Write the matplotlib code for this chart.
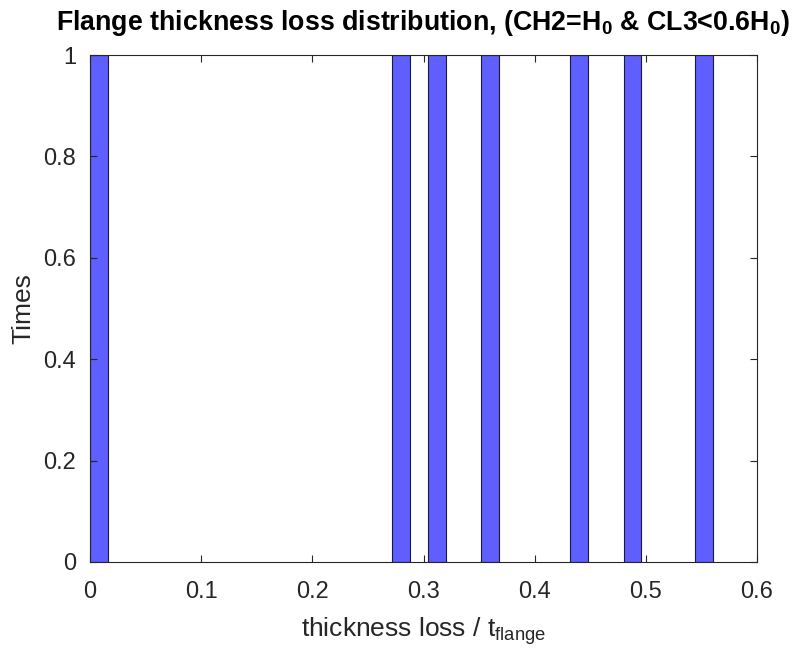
import matplotlib
matplotlib.use("Agg")
import matplotlib.pyplot as plt

plt.rcParams["font.family"] = ["Liberation Sans", "DejaVu Sans"]
plt.rcParams["mathtext.fontset"] = "custom"
plt.rcParams["mathtext.rm"] = "Liberation Sans"
plt.rcParams["mathtext.bf"] = "Liberation Sans:bold"

# histogram bins (left edges) that hold a value, bin width 0.016
bin_left = [0.0, 0.272, 0.304, 0.352, 0.432, 0.480, 0.544]
counts = [1, 1, 1, 1, 1, 1, 1]
bin_width = 0.016

xticks = [0, 0.1, 0.2, 0.3, 0.4, 0.5, 0.6]
xtick_labels = ["0", "0.1", "0.2", "0.3", "0.4", "0.5", "0.6"]
yticks = [0, 0.2, 0.4, 0.6, 0.8, 1]
ytick_labels = ["0", "0.2", "0.4", "0.6", "0.8", "1"]

W, H = 807, 654
fig = plt.figure(figsize=(W / 100, H / 100), dpi=100)
# axes box in pixels: left 90, right 757, top 55, bottom 562
ax = fig.add_axes([90 / W, 1 - 562 / H, (757 - 90) / W, (562 - 55) / H])

ax.bar(bin_left, counts, width=bin_width, align="edge",
       facecolor="#5f5fff", edgecolor="#1a1a40", linewidth=0.8)

ax.set_xlim(0, 0.6)
ax.set_ylim(0, 1)
ax.set_xticks(xticks)
ax.set_xticklabels(xtick_labels)
ax.set_yticks(yticks)
ax.set_yticklabels(ytick_labels)
ax.tick_params(direction="in", top=True, right=True, labelsize=17,
               length=5, width=0.8, colors="#262626")
ax.tick_params(axis="x", pad=14)
ax.tick_params(axis="y", pad=10)
for s in ax.spines.values():
    s.set_color("#262626")
    s.set_linewidth(0.8)

ax.set_xlabel(r"thickness loss / t$_\mathrm{flange}$", fontsize=19,
              color="#262626", labelpad=8)
ax.set_ylabel("Times", fontsize=19, color="#262626", labelpad=6)
ax.set_title(r"Flange thickness loss distribution, (CH2=H$_\mathbf{0}$ & CL3<0.6H$_\mathbf{0}$)",
             fontsize=19.3, fontweight="bold", pad=18)

fig.savefig("out.png", dpi=100)
